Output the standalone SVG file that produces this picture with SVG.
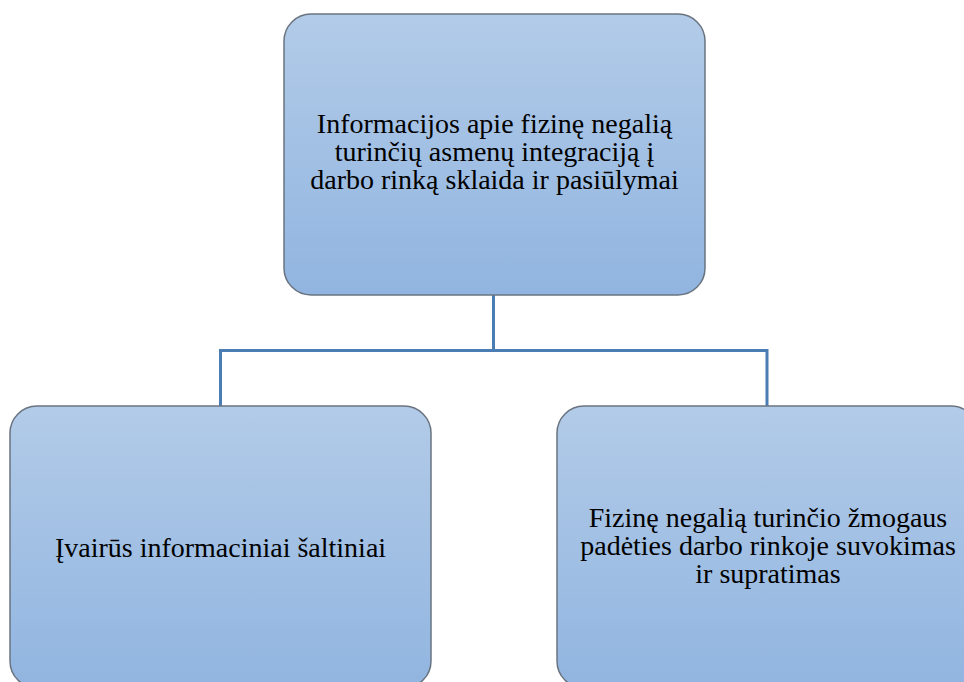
<svg xmlns="http://www.w3.org/2000/svg" width="964" height="682" viewBox="0 0 964 682">
  <defs>
    <linearGradient id="g" x1="0" y1="0" x2="0" y2="1">
      <stop offset="0" stop-color="#b2cbe8"/>
      <stop offset="1" stop-color="#91b5e0"/>
    </linearGradient>
    <style>
      .box { fill: url(#g); stroke: #6a7480; stroke-width: 1.5; }
      .conn { fill: none; stroke: #4a7db4; stroke-width: 3; }
      .t { font-family: "Liberation Serif", "Times New Roman", serif; font-size: 28px; fill: #000; text-anchor: middle; }
    </style>
  </defs>
  <rect width="964" height="682" fill="#ffffff"/>
  <g id="connectors">
    <path class="conn" d="M493.5 295 V350.5 M220.5 406 V350.5 H767 V406"/>
  </g>
  <g id="top">
    <rect class="box" x="284" y="14" width="421" height="281" rx="27" ry="27"/>
    <text class="t" x="494.5" y="133">Informacijos apie fizinę negalią</text>
    <text class="t" x="494.5" y="161">turinčių asmenų integraciją į</text>
    <text class="t" x="494.5" y="189">darbo rinką sklaida ir pasiūlymai</text>
  </g>
  <g id="left">
    <rect class="box" x="10" y="406" width="421" height="282" rx="27" ry="27"/>
    <text class="t" x="220.5" y="557">Įvairūs informaciniai šaltiniai</text>
  </g>
  <g id="right">
    <rect class="box" x="557" y="406" width="421" height="282" rx="27" ry="27"/>
    <text class="t" x="768" y="527">Fizinę negalią turinčio žmogaus</text>
    <text class="t" x="768" y="555">padėties darbo rinkoje suvokimas</text>
    <text class="t" x="768" y="583">ir supratimas</text>
  </g>
</svg>
